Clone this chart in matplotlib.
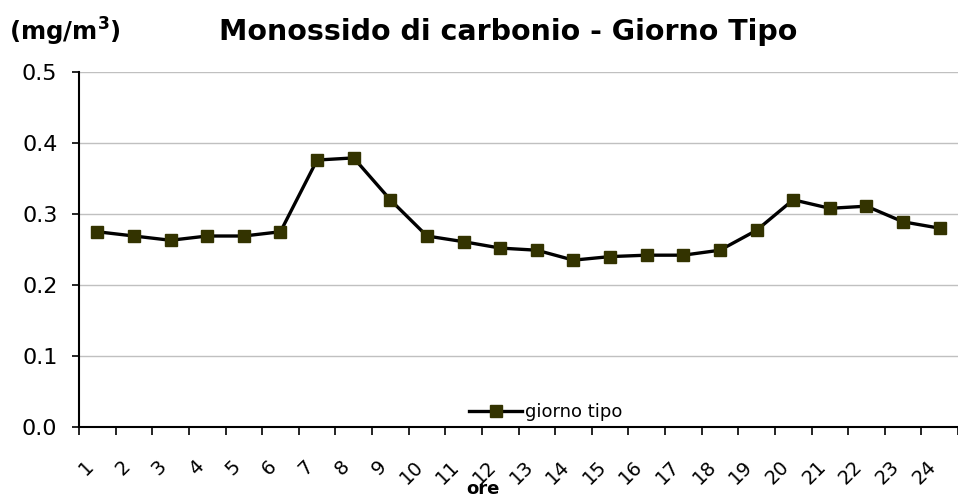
import matplotlib
matplotlib.use("Agg")
import matplotlib.pyplot as plt
import matplotlib.transforms as mtransforms
import numpy as np

hours = [str(h) for h in range(1, 25)]
giorno_tipo = [0.275, 0.269, 0.263, 0.269, 0.269, 0.275, 0.376, 0.379, 0.320, 0.269,
               0.261, 0.252, 0.249, 0.235, 0.240, 0.242, 0.242, 0.249, 0.277, 0.320,
               0.308, 0.311, 0.289, 0.280]
yticks = [0.0, 0.1, 0.2, 0.3, 0.4, 0.5]

fig = plt.figure(figsize=(9.58, 4.99), dpi=100)
ax = fig.add_axes([79/958, 1 - 427/499, (958 - 79)/958, (427 - 72)/499])

x = np.arange(1, len(hours) + 1)
ax.plot(x, giorno_tipo, color="black", lw=2.4, marker="s", markersize=9,
        markerfacecolor="#333300", markeredgecolor="#333300", label="giorno tipo",
        zorder=3)

ax.set_xlim(0.5, len(hours) + 0.5)
ax.set_ylim(0, 0.5)
ax.set_yticks(yticks)
ax.set_yticklabels([f"{v:.1f}" for v in yticks], fontsize=16)
ax.yaxis.grid(True, color="#c0c0c0", lw=1)
ax.set_axisbelow(True)

ax.set_xticks(x)
ax.set_xticklabels(hours, rotation=45, fontsize=14, ha="right", va="top")
shift = mtransforms.ScaledTranslation(-9.5/100, 0, fig.dpi_scale_trans)
for lab in ax.get_xticklabels():
    lab.set_transform(lab.get_transform() + shift)
ax.set_xticks(np.arange(0.5, len(hours) + 1, 1), minor=True)
ax.tick_params(axis="x", which="major", length=0, pad=21.6)
ax.tick_params(axis="x", which="minor", length=6, width=1.2, color="black")
ax.tick_params(axis="y", length=5, width=1.2, pad=10.5)

for s in ["top", "right"]:
    ax.spines[s].set_visible(False)
ax.spines["left"].set_linewidth(1.5)
ax.spines["bottom"].set_linewidth(1.5)

fig.text(508/958, 1 - 32/499, "Monossido di carbonio - Giorno Tipo", fontsize=20.5,
         fontweight="bold", ha="center", va="center")
fig.text(9/958, 1 - 32/499, r"$\mathbf{(mg/m^3)}$", fontsize=17.5,
         ha="left", va="center")
fig.text(483/958, 1/499, "ore", fontsize=13, fontweight="bold",
         ha="center", va="bottom")

leg = ax.legend(loc="center", bbox_to_anchor=(546/958, 1 - 412/499),
                bbox_transform=fig.transFigure, frameon=False, fontsize=13,
                handlelength=2.9, handletextpad=0.2)

fig.savefig("out.png", dpi=100)
